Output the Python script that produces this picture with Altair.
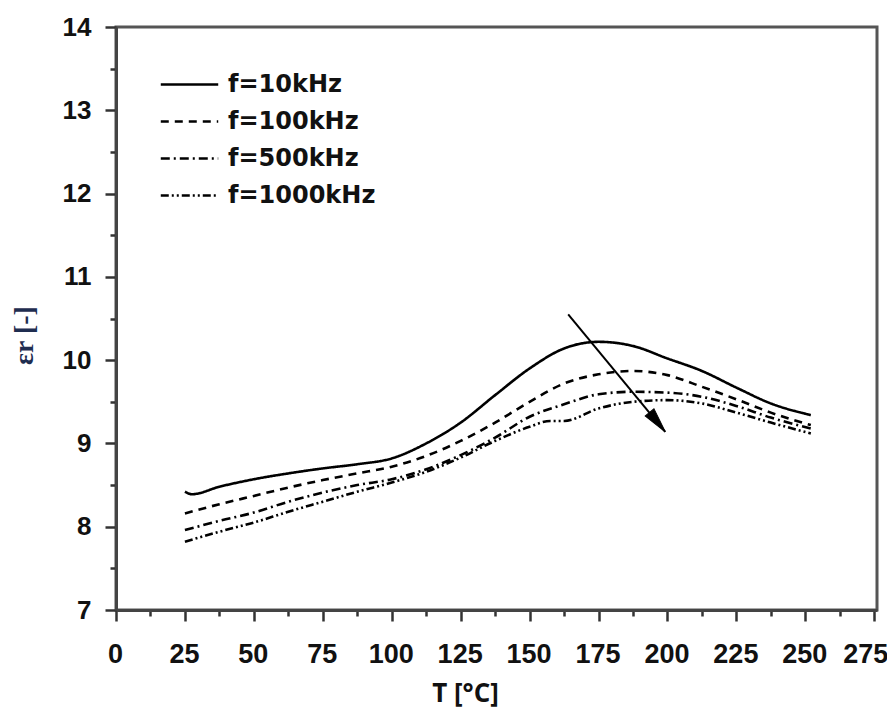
import altair as alt
import pandas as pd

# ---- data ----
SERIES = ["f=10kHz", "f=100kHz", "f=500kHz", "f=1000kHz"]

T_10 = [25, 27.5, 37.5, 50, 62.5, 75, 87.5, 100, 112.5, 125, 137.5, 150, 162.5, 175, 187.5, 200, 212.5, 225, 237.5, 252]
E_10 = [8.42, 8.39, 8.48, 8.57, 8.64, 8.70, 8.75, 8.82, 9.00, 9.25, 9.58, 9.90, 10.14, 10.22, 10.17, 10.02, 9.87, 9.67, 9.48, 9.34]

T_100 = [25, 37.5, 50, 62.5, 75, 87.5, 100, 112.5, 125, 137.5, 150, 162.5, 175, 187.5, 200, 212.5, 225, 237.5, 252]
E_100 = [8.16, 8.27, 8.37, 8.47, 8.56, 8.64, 8.72, 8.85, 9.03, 9.25, 9.50, 9.72, 9.83, 9.87, 9.82, 9.68, 9.53, 9.37, 9.22]

T_500 = [25, 37.5, 50, 62.5, 75, 87.5, 100, 112.5, 125, 137.5, 150, 162.5, 175, 187.5, 200, 212.5, 225, 237.5, 252]
E_500 = [7.96, 8.07, 8.17, 8.30, 8.41, 8.50, 8.57, 8.69, 8.86, 9.07, 9.32, 9.47, 9.59, 9.62, 9.61, 9.56, 9.45, 9.31, 9.18]

T_1000 = [25, 37.5, 50, 62.5, 75, 87.5, 100, 112.5, 125, 137.5, 150, 157.5, 162.5, 175, 187.5, 200, 212.5, 225, 237.5, 252]
E_1000 = [7.82, 7.94, 8.05, 8.18, 8.30, 8.42, 8.53, 8.66, 8.83, 9.03, 9.20, 9.27, 9.27, 9.42, 9.50, 9.52, 9.48, 9.37, 9.25, 9.12]

# arrow (start -> end) in data units
ARROW_T = [164.0, 199.2]
ARROW_E = [10.55, 9.14]

X_TICKS = [0, 12.5, 25, 37.5, 50, 62.5, 75, 87.5, 100, 112.5, 125, 137.5, 150, 162.5,
           175, 187.5, 200, 212.5, 225, 237.5, 250, 262.5, 275]
Y_TICKS = [7, 7.5, 8, 8.5, 9, 9.5, 10, 10.5, 11, 11.5, 12, 12.5, 13, 13.5, 14]

DASHES = [[1, 0], [8, 6], [9, 4, 2, 4], [8, 3, 2, 3, 2, 3]]

rows = []
for name, ts, es in [(SERIES[0], T_10, E_10), (SERIES[1], T_100, E_100),
                     (SERIES[2], T_500, E_500), (SERIES[3], T_1000, E_1000)]:
    for t, e in zip(ts, es):
        rows.append({"T": t, "eps": e, "f": name})
df = pd.DataFrame(rows)

arrow_df = pd.DataFrame({"t0": [ARROW_T[0]], "e0": [ARROW_E[0]],
                         "t1": [ARROW_T[1]], "e1": [ARROW_E[1]]})

xscale = alt.Scale(domain=[0, 276], nice=False, zero=False)
yscale = alt.Scale(domain=[7, 14], nice=False, zero=False)

x_axis = alt.Axis(
    values=X_TICKS,
    labelExpr="datum.value % 25 === 0 ? format(datum.value, 'd') : ''",
    tickSize={"condition": {"test": "datum.value % 25 !== 0", "value": 6}, "value": 11},
    labelOffset={"condition": {"test": "datum.value === 275", "value": -9}, "value": -1},
    title="T [°C]",
    titleFont="Open Sans", titleFontWeight="bold", titleFontSize=26, titleColor="#111",
    titleX=349, titleY=83, titleAlign="center", titleBaseline="middle",
    labelFont="Liberation Sans", labelFontWeight="bold", labelFontSize=27, labelColor="#111",
    labelPadding=20, labelFlush=False, labelOverlap=False,
    grid=False, domainColor="#444", domainWidth=3, tickColor="#333", tickWidth=2.5,
)
y_axis = alt.Axis(
    values=Y_TICKS,
    labelExpr="datum.value % 1 === 0 ? format(datum.value, 'd') : ''",
    tickSize={"condition": {"test": "datum.value % 1 !== 0", "value": 6}, "value": 11},
    title="εr [-]",
    titleFont="Liberation Serif", titleFontWeight="bold", titleFontSize=28, titleColor="#1f2d50",
    titleX=-92, titleY=308, titleAngle=270, titleAlign="center", titleBaseline="middle",
    labelFont="Liberation Sans", labelFontWeight="bold", labelFontSize=26, labelColor="#111",
    labelPadding=14, labelFlush=False, labelOverlap=False,
    grid=False, domainColor="#444", domainWidth=3, tickColor="#333", tickWidth=2.5,
)

lines = alt.Chart(df).mark_line(stroke="black", strokeWidth=2.6, interpolate="monotone").encode(
    x=alt.X("T:Q", scale=xscale, axis=x_axis),
    y=alt.Y("eps:Q", scale=yscale, axis=y_axis),
    strokeDash=alt.StrokeDash(
        "f:N",
        scale=alt.Scale(domain=SERIES, range=DASHES),
        legend=alt.Legend(
            title=None, orient="none", legendX=43, legendY=41,
            symbolType="stroke", symbolSize=3300, symbolStrokeWidth=2.6,
            symbolStrokeColor="black", clipHeight=33,
            labelFont="DejaVu Sans", labelFontWeight="bold", labelFontSize=24,
            labelColor="#111", labelOffset=8, labelLimit=400, rowPadding=4,
        ),
    ),
)

shaft = alt.Chart(arrow_df).mark_rule(stroke="black", strokeWidth=2).encode(
    x=alt.X("t0:Q", scale=xscale, axis=x_axis),
    y=alt.Y("e0:Q", scale=yscale, axis=y_axis),
    x2="t1:Q", y2="e1:Q",
)
head = alt.Chart(arrow_df).mark_point(
    shape="M0,0 L0.45,2 L-0.45,2 Z", filled=True, fill="black", stroke="black",
    strokeWidth=1, size=620, angle=141, opacity=1,
).encode(
    x=alt.X("t1:Q", scale=xscale, axis=x_axis),
    y=alt.Y("e1:Q", scale=yscale, axis=y_axis),
)

chart = alt.layer(lines, shaft, head).properties(
    width=761, height=583,
    autosize=alt.AutoSizeParams(type="none"),
    padding={"left": 116, "top": 27, "right": 10, "bottom": 101},
    background="white",
).configure_view(stroke="#555", strokeWidth=3)

chart.save("out.html", embed_options={"renderer": "svg", "actions": False})
